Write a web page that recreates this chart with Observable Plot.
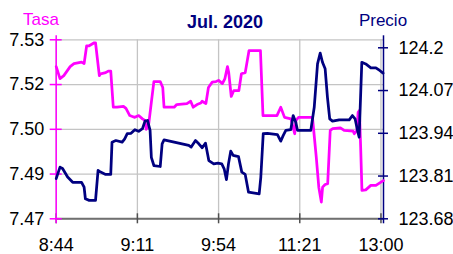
<!DOCTYPE html>
<html><head><meta charset="utf-8">
<script src="https://cdn.jsdelivr.net/npm/d3@7"></script>
<script src="https://cdn.jsdelivr.net/npm/@observablehq/plot@0.6"></script>
<style>
body{margin:0;background:#fff;}
#wrap{position:relative;width:453px;height:254px;font-family:"Liberation Sans",Arial,sans-serif;}
#wrap svg{position:absolute;left:0;top:0;}
.t{position:absolute;white-space:nowrap;line-height:1;}
</style></head><body>
<div id="wrap">
<div class="t" style="left:41px;top:10.6px;font-size:17px;color:#ff00ff;transform:translateX(-50%)">Tasa</div>
<div class="t" style="left:225px;top:13px;font-size:18px;font-weight:bold;color:#000080;transform:translateX(-50%)">Jul. 2020</div>
<div class="t" style="left:383px;top:11.6px;font-size:17px;color:#000080;transform:translateX(-50%)">Precio</div>
</div>
<script>
// tick labels
const xTickPos = [0, 64, 128, 192, 256];
const xTickLabels = ["8:44", "9:11", "9:54", "11:21", "13:00"];
const tasaTicks = [7.47, 7.485, 7.50, 7.515, 7.53];
const tasaTickLabels = ["7.47", "7.49", "7.50", "7.52", "7.53"];
const precioTicks = [123.68, 123.81, 123.94, 124.07, 124.2];
const precioTickLabels = ["123.68", "123.81", "123.94", "124.07", "124.2"];
const tasaDomain = [7.47, 7.53];
const precioDomain = [123.68, 124.2243];

// Tasa series (sample index, value)
const tasaIdx = [0,3,6,11,14,20,22,24,26,30,31,34,35,39,41,43,45,48,53,55,58,60,62,65,68,70,71,73,75,77,82,84,85,93,95,103,106,108,111,114,115,118,120,123,126,128,131,133,135,136,138,140,144,146,149,152,161,163,174,177,180,185,188,189,191,202,203,205,207,209,210,212,214,216,218,224,227,234,235,237,238,239,240,241,244,248,252,256,258];
const tasaVal = [7.521,7.517,7.518,7.521,7.522,7.5225,7.522,7.528,7.528,7.529,7.529,7.518,7.5186,7.519,7.5195,7.5195,7.5074,7.5074,7.5077,7.507,7.5046,7.5043,7.504,7.5046,7.5035,7.503,7.500,7.502,7.509,7.516,7.516,7.514,7.5074,7.5074,7.5083,7.5086,7.5094,7.5074,7.5083,7.5088,7.5094,7.5086,7.514,7.5158,7.516,7.5164,7.5153,7.517,7.521,7.519,7.511,7.513,7.513,7.5186,7.519,7.5264,7.5264,7.5046,7.5046,7.5074,7.504,7.5035,7.4985,7.503,7.504,7.504,7.4996,7.4907,7.4806,7.4756,7.4806,7.4815,7.4818,7.4996,7.5002,7.5005,7.4996,7.4994,7.4985,7.4996,7.5057,7.5063,7.494,7.4795,7.4797,7.4812,7.4812,7.4823,7.4828];

// Precio series (sample index, value)
const precioIdx = [0,3,5,9,13,20,22,23,26,31,33,35,39,43,44,47,52,54,56,59,62,65,68,70,72,74,75,77,82,83.5,85,93,104.5,106.4,109.8,112.4,115.1,117.7,120.3,124.2,127.4,130.5,132.4,134.2,135.8,137.6,139.5,143.7,146.3,149,151.6,160,161.3,163.2,166.5,174.4,177,178.9,181,184.9,186.8,188.9,190.2,200.7,203.4,206,208.1,209.9,212,213.8,215.6,217.8,223.1,231,233.5,235.6,237.5,238.8,240.9,244,248,252,255,257.7];
const precioVal = [123.802,123.837,123.833,123.807,123.791,123.791,123.776,123.741,123.736,123.736,123.827,123.822,123.815,123.815,123.913,123.918,123.913,123.923,123.939,123.940,123.951,123.946,123.954,123.977,123.979,123.949,123.867,123.842,123.839,123.908,123.920,123.913,123.903,123.898,123.918,123.908,123.896,123.910,123.857,123.847,123.849,123.847,123.832,123.799,123.847,123.886,123.873,123.869,123.822,123.815,123.761,123.756,123.807,123.939,123.940,123.936,123.916,123.933,123.949,123.951,123.994,123.973,123.949,123.949,124.019,124.151,124.184,124.156,124.136,124.050,123.984,123.977,123.981,123.981,123.994,123.984,123.949,123.928,124.156,124.151,124.139,124.139,124.131,124.123];

const MAG = "#ff00ff", NAVY = "#000080";
// map precio onto the tasa scale (secondary axis)
const p2t = p => tasaDomain[0] + (p - precioDomain[0]) / (precioDomain[1] - precioDomain[0]) * (tasaDomain[1] - tasaDomain[0]);

const tasa = tasaIdx.map((x, i) => ({x, y: tasaVal[i]}));
const precio = precioIdx.map((x, i) => ({x, y: p2t(precioVal[i])}));
const xLab = new Map(xTickPos.map((d, i) => [d, xTickLabels[i]]));
const tLab = new Map(tasaTicks.map((d, i) => [d, tasaTickLabels[i]]));
const pPos = precioTicks.map(p2t);
const pLab = new Map(pPos.map((d, i) => [d, precioTickLabels[i]]));

const chart = Plot.plot({
  width: 453, height: 254,
  marginLeft: 55.7, marginRight: 70, marginTop: 39.3, marginBottom: 35.7,
  style: {fontFamily: "'Liberation Sans', Arial, sans-serif", fontSize: "18px", background: "transparent", color: "#000"},
  x: {domain: [0, 258], label: null},
  y: {domain: tasaDomain, label: null},
  marks: [
    Plot.gridY(tasaTicks, {stroke: "#c4c4c4", strokeOpacity: 1, strokeWidth: 1.3}),
    Plot.gridX(xTickPos, {stroke: "#c4c4c4", strokeOpacity: 1, strokeWidth: 1.3}),
    Plot.ruleY([tasaDomain[0]], {stroke: "#707070", strokeWidth: 2}),
    Plot.axisX(xTickPos, {tickSize: 10, dy: -5, fill: "none", stroke: "#505050", strokeWidth: 1.5, label: null}),
    Plot.axisX(xTickPos, {tickSize: 0, tickPadding: 19, tickFormat: d => xLab.get(d), fill: "#000", fontSize: 18, label: null}),
    Plot.ruleX([0], {stroke: MAG, strokeWidth: 1.5, insetTop: -4, insetBottom: -5}),
    Plot.ruleX([258], {stroke: NAVY, strokeWidth: 1.5, insetTop: -4, insetBottom: -5}),
    Plot.axisY(tasaTicks, {tickSize: 12, dx: 6, fill: "none", stroke: MAG, strokeWidth: 1.5, label: null}),
    Plot.axisY(tasaTicks, {tickSize: 0, tickPadding: 12, tickFormat: d => tLab.get(d), fill: "#000", fontSize: 18, label: null}),
    Plot.axisY(pPos, {anchor: "right", tickSize: 10, dx: -6, fill: "none", stroke: NAVY, strokeWidth: 1.5, label: null}),
    Plot.axisY(pPos, {anchor: "right", tickSize: 0, tickPadding: 15, tickFormat: d => pLab.get(d), fill: "#000", fontSize: 18, label: null}),
    Plot.line(tasa, {x: "x", y: "y", stroke: MAG, strokeWidth: 2.75, strokeLinejoin: "round"}),
    Plot.line(precio, {x: "x", y: "y", stroke: NAVY, strokeWidth: 2.75, strokeLinejoin: "round"})
  ]
});
document.getElementById("wrap").prepend(chart);
</script>
</body></html>
